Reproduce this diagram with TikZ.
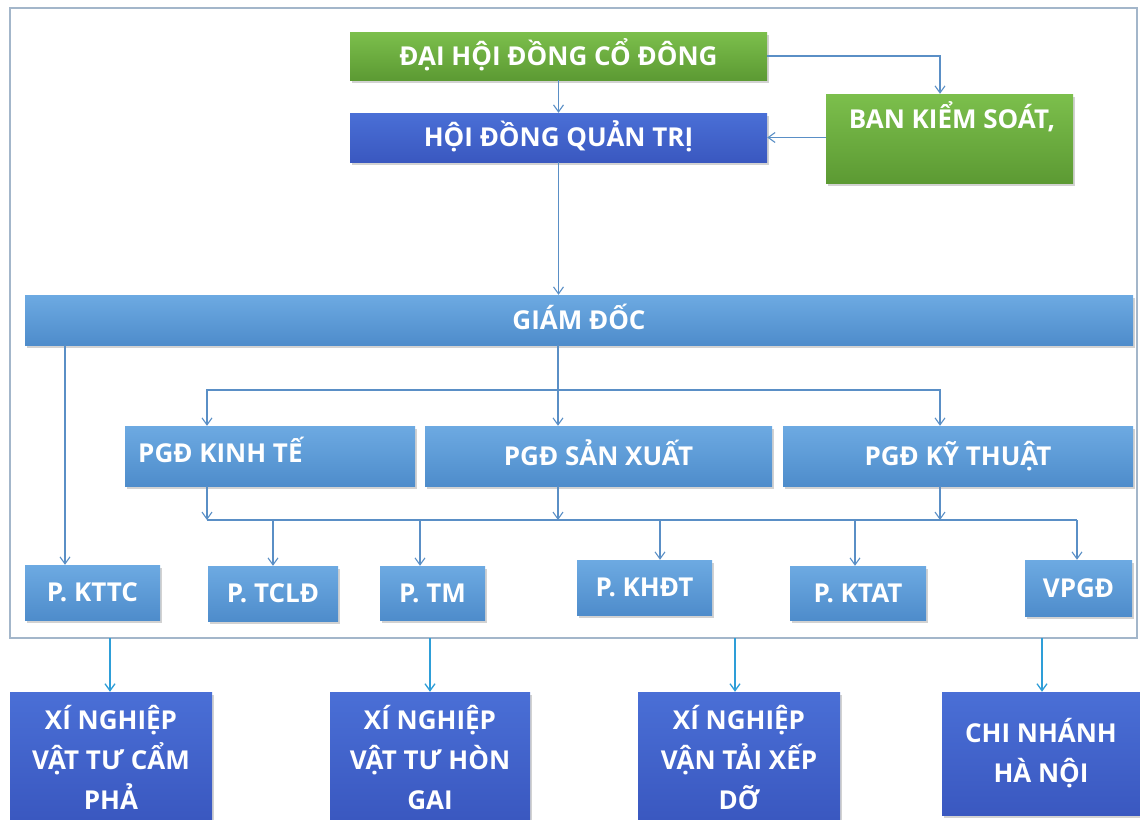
\documentclass[tikz,border=0pt]{standalone}
\usepackage{fontspec}
\setmainfont{Open Sans}
\usetikzlibrary{arrows.meta,shadows}
\definecolor{gtop}{HTML}{7CBF4C}
\definecolor{gbot}{HTML}{5C9A33}
\definecolor{dbtop}{HTML}{4A6FD6}
\definecolor{dbbot}{HTML}{3A58C0}
\definecolor{lbtop}{HTML}{6DAAE2}
\definecolor{lbbot}{HTML}{4E8CCB}
\definecolor{arr}{HTML}{5A8FC6}
\definecolor{arr2}{HTML}{2E9ED8}
\definecolor{frame}{HTML}{A3B6CA}
\tikzset{
  txt/.style={text=white, font=\fontsize{26}{40}\selectfont\bfseries, inner sep=0pt},
  bx/.style={txt, text height=18.6pt, text depth=0pt,
    drop shadow={shadow xshift=1.5pt, shadow yshift=-3pt, opacity=0.35}},
  gbox/.style={bx, top color=gtop, bottom color=gbot},
  dbox/.style={bx, top color=dbtop, bottom color=dbbot},
  lbox/.style={bx, top color=lbtop, bottom color=lbbot},
  conn/.style={draw=arr, line width=1.1pt},
  arw/.style={conn, -{Straight Barb[length=7pt,width=10pt,line width=1.1pt]}},
  arw2/.style={draw=arr2, line width=1.3pt, -{Straight Barb[length=7pt,width=10pt,line width=1.3pt]}},
}
\begin{document}
\begin{tikzpicture}[x=1pt,y=-1pt]
\useasboundingbox (0,0) rectangle (1140,819);
\fill[white] (0,0) rectangle (1140,819);
% frame
\draw[frame, line width=1.2pt] (10,8) rectangle (1137,638);
% top
\node[gbox, minimum width=417pt, minimum height=48pt] (dh) at (558.5,56) {^^^^0110^^^^1ea0I H^^^^1ed8I ^^^^0110^^^^1ed2NG C^^^^1ed4 ^^^^0110^^^^00d4NG};
\node[dbox, minimum width=417pt, minimum height=49pt] (hd) at (558.5,137.5) {H^^^^1ed8I ^^^^0110^^^^1ed2NG QU^^^^1ea2N TR^^^^1eca};
\node[gbox, minimum width=247pt, minimum height=89pt] (bk) at (949.5,138.5) {};
\node[txt, anchor=base] (bkt) at (952,128) {BAN KI^^^^1ec2M SO^^^^00c1T,};
\node[lbox, minimum width=1108pt, minimum height=50pt] (gd) at (579,320) {GI^^^^00c1M ^^^^0110^^^^1ed0C};
% PGD
\node[lbox, minimum width=290pt, minimum height=60pt] (kt) at (270,456) {};
\node[txt, text height=18.6pt, text depth=0pt, anchor=west] (ktt) at (138,453) {PG^^^^0110 KINH T^^^^1ebe};
\node[lbox, minimum width=347pt, minimum height=60pt] (sx) at (598.5,456) {PG^^^^0110 S^^^^1ea2N XU^^^^1ea4T};
\node[lbox, minimum width=350pt, minimum height=60pt] (kth) at (958,456) {PG^^^^0110 K^^^^1ef8 THU^^^^1eacT};
% departments
\node[lbox, minimum width=135pt, minimum height=55pt] (p1) at (92.5,592.5) {P. KTTC};
\node[lbox, minimum width=130pt, minimum height=55pt] (p2) at (273,593.5) {P. TCL^^^^0110};
\node[lbox, minimum width=105pt, minimum height=54pt] (p3) at (432.5,593) {P. TM};
\node[lbox, minimum width=135pt, minimum height=55pt] (p4) at (644.5,587.5) {P. KH^^^^0110T};
\node[lbox, minimum width=136pt, minimum height=54pt] (p5) at (858,593) {P. KTAT};
\node[lbox, minimum width=107pt, minimum height=56pt] (p6) at (1078.5,588) {VPG^^^^0110};
% bottom
\node[dbox, minimum width=202pt, minimum height=127pt, align=center, text height=108pt] (b1) at (111,755.5) {X^^^^00cd NGHI^^^^1ec6P\\V^^^^1eacT T^^^^01af C^^^^1ea8M\\PH^^^^1ea2};
\node[dbox, minimum width=200pt, minimum height=127pt, align=center, text height=108pt] (b2) at (430,755.5) {X^^^^00cd NGHI^^^^1ec6P\\V^^^^1eacT T^^^^01af H^^^^00d2N\\GAI};
\node[dbox, minimum width=202pt, minimum height=127pt, align=center, text height=108pt] (b3) at (739,755.5) {X^^^^00cd NGHI^^^^1ec6P\\V^^^^1eacN T^^^^1ea2I X^^^^1ebeP\\D^^^^1ee0};
\node[dbox, minimum width=198pt, minimum height=123pt, align=center, text height=58.6pt] (b4) at (1041,753.5) {CHI NH^^^^00c1NH\\H^^^^00c0 N^^^^1ed8I};
% connectors top
\draw[arw] (dh.south) -- (hd.north);
\draw[arw] (dh.east) -| (bk.north -| 940,0);
\draw[arw] (bk.west |- hd) -- (hd.east);
\draw[arw] (hd.south) -- (gd.north -| hd.south);
% GD to PGD
\coordinate (j1) at (558,390);
\draw[conn] (gd.south -| j1) -- (j1);
\draw[arw] (j1) -- (sx.north -| j1);
\draw[arw] (j1) -| (kt.north -| 207,0);
\draw[arw] (j1) -| (kth.north -| 940,0);
\draw[arw] (gd.south -| 65,0) -- (p1.north -| 65,0);
% PGD to bus
\coordinate (bl) at (207,520);
\coordinate (br) at (1077,520);
\draw[conn] (bl) -- (br);
\draw[arw] (kt.south -| bl) -- (bl);
\draw[arw] (sx.south -| 558,0) -- (558,520);
\draw[arw] (kth.south -| 940,0) -- (940,520);
\draw[arw] (273,520) -- (p2.north -| 273,0);
\draw[arw] (420,520) -- (p3.north -| 420,0);
\draw[arw] (660,520) -- (p4.north -| 660,0);
\draw[arw] (855,520) -- (p5.north -| 855,0);
\draw[arw] (br) -- (p6.north -| br);
% frame to bottom
\coordinate (f1) at (110,638);
\coordinate (f2) at (430,638);
\coordinate (f3) at (735,638);
\coordinate (f4) at (1042,638);
\draw[arw2] (f1) -- (b1.north -| f1);
\draw[arw2] (f2) -- (b2.north -| f2);
\draw[arw2] (f3) -- (b3.north -| f3);
\draw[arw2] (f4) -- (b4.north -| f4);
\end{tikzpicture}
\end{document}
